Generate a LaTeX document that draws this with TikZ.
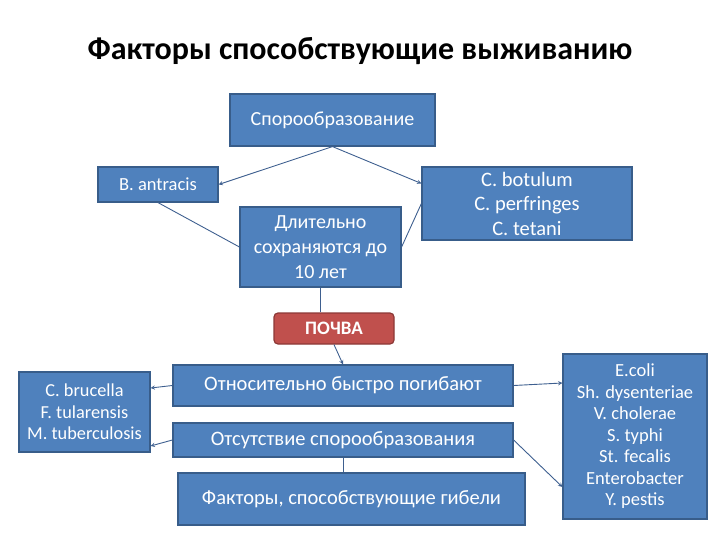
\documentclass[tikz,border=0pt]{standalone}
\usepackage{fontspec}
\setmainfont{Carlito}
\definecolor{boxblue}{HTML}{4F81BD}
\definecolor{boxedge}{HTML}{385D8A}
\definecolor{soilred}{HTML}{C0504D}
\definecolor{soiledge}{HTML}{8C3836}
\definecolor{linkblue}{HTML}{3E5F8F}
\tikzset{
  blok/.style={rectangle, draw=boxedge, fill=boxblue, line width=1.2pt, text=white,
    align=center, inner sep=0pt, font=\fontsize{18.5}{21.5}\selectfont},
  blokb/.style={blok, font=\fontsize{20.5}{24.5}\selectfont},
  soil/.style={blok, rounded corners=4pt, draw=soiledge, fill=soilred, font=\fontsize{19}{23}\selectfont\bfseries},
  link/.style={draw=linkblue, line width=0.9pt},
}

\begin{document}
\begin{tikzpicture}[x=1pt, y=-1pt, >=stealth]
    \useasboundingbox (0,0) rectangle (720,540);

    % заголовок
    \node (title) at (360,51) {\fontsize{32}{38}\selectfont\bfseries Факторы способствующие выживанию};

    % верхняя часть: споровые
    \node[blok, minimum width=205pt, minimum height=52pt, font=\fontsize{20}{24}\selectfont] (spor) at (332.5,120) {Спорообразование};
    \node[blok, minimum width=120pt, minimum height=35pt] (antr) at (158,184.5) {B. antracis};
    \node[blokb, minimum width=210pt, minimum height=73pt] (bot) at (527,203.5) {C. botulum\\C. perfringes\\C. tetani};
    \node[blokb, minimum width=161pt, minimum height=80pt, font=\fontsize{20}{25}\selectfont] (dlit) at (320.5,247) {Длительно\\сохраняются до\\10 лет};

    % почва
    \node[soil, minimum width=120pt, minimum height=31pt] (pochva) at (334,328.5) {ПОЧВА};

    % нижняя часть: неспоровые
    \node[blokb, minimum width=340pt, minimum height=41pt] (otn) at (343,385.5) {Относительно быстро погибают};
    \node[blokb, minimum width=340pt, minimum height=34pt] (otsut) at (343,440) {Отсутствие спорообразования};
    \node[blokb, minimum width=347pt, minimum height=52pt] (gibel) at (351.5,499) {Факторы, способствующие гибели};
    \node[blok, minimum width=131pt, minimum height=80pt, font=\fontsize{18.3}{21.7}\selectfont] (levo) at (84.5,412) {C. brucella\\F. tularensis\\M. tuberculosis};
    \node[blok, minimum width=144pt, minimum height=165pt] (pravo) at (635,436.5) {E.coli\\Sh. dysenteriae\\V. cholerae\\S. typhi\\St. fecalis\\Enterobacter\\Y. pestis};

    % связи сверху
    \draw[link,->] (spor.south) -- (antr.east);
    \draw[link,->] (spor.south) -- ([yshift=20pt]bot.west);
    \draw[link] (antr.south) -- (dlit.west);
    \draw[link] (dlit.east) -- (bot.west);
    \draw[link] (dlit.south) -- (dlit.south |- pochva.north);
    \draw[link,->] (pochva.south) -- (otn.north);

    % связи снизу
    \draw[link,->] (otn.west) -- ([yshift=24pt]levo.east);
    \draw[link,->] (otsut.west) -- ([yshift=-34pt]levo.east);
    \draw[link,->] (otn.east) -- ([yshift=53.5pt]pravo.west);
    \draw[link,->] (otsut.east) -- ([yshift=-50.5pt]pravo.west);
    \draw[link] (otsut.south) -- (otsut.south |- gibel.north);
\end{tikzpicture}
\end{document}
